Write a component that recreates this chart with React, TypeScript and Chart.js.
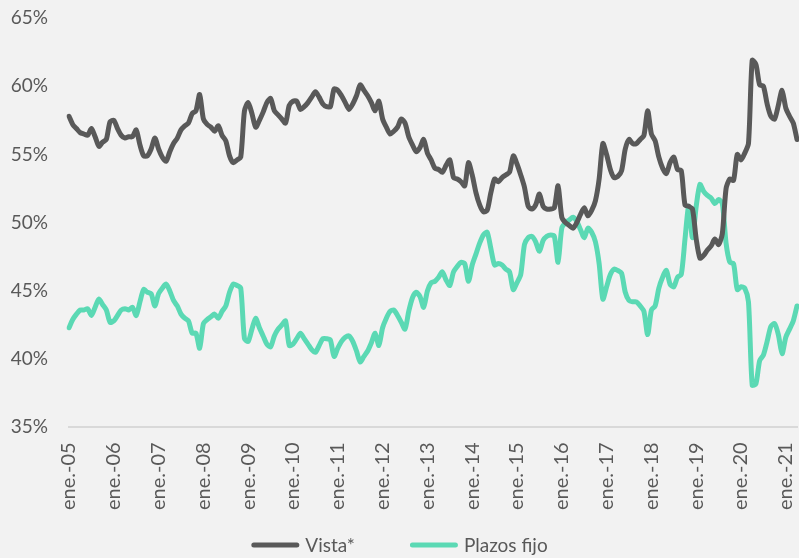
import React, { useEffect, useRef } from "react";
import { Chart, registerables } from "chart.js";

Chart.register(...registerables);

const years = ["05","06","07","08","09","10","11","12","13","14","15","16","17","18","19","20","21"];
const monthNames = ["ene.","feb.","mar.","abr.","may.","jun.","jul.","ago.","sep.","oct.","nov.","dic."];
const yTicks = [35, 40, 45, 50, 55, 60, 65];

// Vista* (% of deposits), monthly Jan-2005 .. Apr-2021
const vista2005_2008 = [
  57.8, 57.2, 56.9, 56.6, 56.5, 56.4, 56.9, 56.3, 55.6, 55.9, 56.1, 57.4,
  57.5, 56.9, 56.4, 56.2, 56.3, 56.3, 56.8, 55.7, 54.9, 54.9, 55.4, 56.2,
  55.4, 54.8, 54.5, 55.2, 55.8, 56.2, 56.8, 57.1, 57.3, 58.0, 58.2, 59.4,
  57.6, 57.2, 57.0, 56.7, 57.1, 56.4, 56.0, 54.9, 54.4, 54.6, 54.8, 58.2,
];
const vista2009_2012 = [
  58.8, 58.0, 57.0, 57.5, 58.1, 58.8, 59.1, 58.2, 57.9, 57.6, 57.3, 58.6,
  58.9, 58.9, 58.3, 58.5, 58.8, 59.2, 59.6, 59.2, 58.7, 58.5, 58.5, 59.8,
  59.7, 59.3, 58.8, 58.3, 58.7, 59.3, 60.1, 59.7, 59.3, 58.8, 58.2, 58.9,
  57.6, 57.0, 56.5, 56.7, 57.0, 57.6, 57.3, 56.3, 55.7, 55.2, 55.5, 56.1,
];
const vista2013_2016 = [
  55.1, 54.6, 54.0, 53.9, 53.7, 54.2, 54.6, 53.3, 53.2, 53.0, 52.7, 54.4,
  53.5, 52.2, 51.3, 50.8, 50.9, 52.2, 53.2, 53.0, 53.3, 53.5, 53.7, 54.9,
  54.3, 53.5, 52.6, 51.2, 51.0, 51.3, 52.1, 51.2, 51.0, 51.0, 51.1, 52.7,
  50.4, 50.0, 49.8, 49.6, 50.0, 50.6, 51.1, 50.5, 50.9, 51.6, 53.2, 55.8,
];
const vista2017_2021 = [
  55.0, 53.9, 53.3, 53.4, 53.8, 55.4, 56.1, 55.8, 55.8, 56.1, 56.4, 58.2,
  56.5, 56.0, 54.8, 54.0, 53.6, 54.4, 54.8, 53.9, 53.8, 51.3, 51.2, 51.0,
  48.8, 47.4, 47.6, 48.0, 48.3, 48.8, 48.4, 49.2, 52.5, 53.2, 53.1, 55.0,
  54.6, 55.1, 55.8, 61.9, 61.6, 60.1, 60.0, 58.7, 57.8, 57.6, 58.6, 59.7,
  58.4, 57.8, 57.3, 56.1,
];

// Plazos fijo (% of deposits)
const plazos2005_2008 = [
  42.3, 42.9, 43.3, 43.6, 43.6, 43.7, 43.2, 43.8, 44.4, 44.0, 43.6, 42.7,
  42.8, 43.2, 43.6, 43.7, 43.6, 43.8, 43.2, 44.2, 45.1, 44.9, 44.8, 43.9,
  44.8, 45.2, 45.5, 45.0, 44.3, 43.9, 43.3, 43.0, 42.8, 41.9, 41.9, 40.8,
  42.6, 42.9, 43.1, 43.3, 43.0, 43.5, 43.9, 44.9, 45.5, 45.4, 45.2, 41.5,
];
const plazos2009_2012 = [
  41.3, 42.2, 43.0, 42.3, 41.7, 41.1, 40.9, 41.7, 42.2, 42.5, 42.8, 41.0,
  41.1, 41.5, 41.9, 41.5, 41.1, 40.7, 40.5, 41.0, 41.5, 41.5, 41.4, 40.2,
  40.8, 41.3, 41.6, 41.7, 41.3, 40.6, 39.8, 40.2, 40.6, 41.2, 41.9, 41.0,
  42.3, 43.0, 43.5, 43.6, 43.2, 42.7, 42.2, 43.5, 44.5, 44.9, 44.6, 43.8,
];
const plazos2013_2016 = [
  45.0, 45.6, 45.7, 46.0, 46.4, 45.8, 45.4, 46.4, 46.8, 47.1, 47.0, 45.7,
  46.9, 47.7, 48.5, 49.1, 49.3, 48.1, 46.9, 47.0, 46.9, 46.6, 46.4, 45.1,
  45.6, 46.2, 48.4, 48.9, 49.0, 48.6, 47.9, 48.7, 49.0, 49.1, 49.0, 47.1,
  49.6, 50.0, 50.2, 50.4, 50.1, 49.5, 48.9, 49.6, 49.3, 48.6, 47.0, 44.4,
];
const plazos2017_2021 = [
  45.3, 46.2, 46.6, 46.5, 46.3, 44.9, 44.3, 44.2, 44.2, 43.9, 43.5, 41.8,
  43.6, 43.9, 45.2, 46.0, 46.5, 45.5, 45.3, 46.0, 46.2, 48.8, 51.2, 48.9,
  51.2, 52.8, 52.3, 52.0, 51.8, 51.4, 51.7, 51.4, 48.5, 47.1, 47.0, 45.1,
  45.3, 45.2, 44.2, 38.1, 38.2, 39.9, 40.3, 41.3, 42.4, 42.6, 41.8, 40.4,
  41.6, 42.2, 42.8, 43.9,
];

const vista = [...vista2005_2008, ...vista2009_2012, ...vista2013_2016, ...vista2017_2021];
const plazos = [...plazos2005_2008, ...plazos2009_2012, ...plazos2013_2016, ...plazos2017_2021];

const categories: string[] = [];
years.forEach((y) => monthNames.forEach((m) => categories.push(`${m}-${y}`)));
const labels = categories.slice(0, vista.length);

const GREY = "#595959";
const TEAL = "#5bd9b4";
const FONT = "Lato, 'Open Sans', sans-serif";

const lineLegend = {
  id: "lineLegend",
  afterDraw(chart: any) {
    const ctx = chart.ctx;
    ctx.save();
    ctx.font = `19px ${FONT}`;
    const items = chart.data.datasets.map((d: any) => ({
      text: d.label,
      color: d.borderColor,
      w: ctx.measureText(d.label).width,
    }));
    const box = 48;
    const gapText = 6;
    const gapItem = 55;
    const total =
      items.reduce((s: number, it: any) => s + box + gapText + it.w, 0) + gapItem * (items.length - 1);
    let x = (chart.width - total) / 2;
    const y = chart.height - 13;
    items.forEach((it: any) => {
      ctx.strokeStyle = it.color;
      ctx.lineWidth = 5;
      ctx.lineCap = "round";
      ctx.beginPath();
      ctx.moveTo(x + 2.5, y);
      ctx.lineTo(x + box - 2.5, y);
      ctx.stroke();
      ctx.fillStyle = GREY;
      ctx.textBaseline = "middle";
      ctx.textAlign = "left";
      ctx.fillText(it.text, x + box + gapText, y + 1);
      x += box + gapText + it.w + gapItem;
    });
    ctx.restore();
  },
};

export default function App() {
  const ref = useRef<HTMLCanvasElement>(null);
  useEffect(() => {
    document.body.style.margin = "0";
    document.body.style.background = "#f2f2f2";
    const chart = new Chart(ref.current!, {
      type: "line",
      data: {
        labels,
        datasets: [
          {
            label: "Vista*",
            data: vista,
            borderColor: GREY,
            backgroundColor: GREY,
            borderWidth: 5,
            pointRadius: 0,
            tension: 0.25,
            borderJoinStyle: "round",
            borderCapStyle: "round",
          },
          {
            label: "Plazos fijo",
            data: plazos,
            borderColor: TEAL,
            backgroundColor: TEAL,
            borderWidth: 5,
            pointRadius: 0,
            tension: 0.25,
            borderJoinStyle: "round",
            borderCapStyle: "round",
          },
        ],
      },
      plugins: [lineLegend],
      options: {
        animation: false,
        responsive: true,
        maintainAspectRatio: false,
        layout: { padding: { left: 10, right: 2, top: 18, bottom: 33 } },
        plugins: {
          tooltip: { enabled: false },
          legend: { display: false },
        },
        scales: {
          x: {
            offset: false,
            grid: { display: false, drawTicks: false },
            border: { display: true, color: "#d9d9d9", width: 2 },
            afterFit: (s: any) => {
              s.paddingLeft = 0;
              s.paddingRight = 0;
            },
            ticks: {
              autoSkip: false,
              maxRotation: 90,
              minRotation: 90,
              padding: 15,
              color: GREY,
              font: { family: FONT, size: 20 },
              callback: (_v: any, i: number) => (i % 12 === 0 ? labels[i] : ""),
            },
          },
          y: {
            min: 35,
            max: 65,
            grid: { display: false, drawTicks: false },
            border: { display: false },
            afterFit: (s: any) => {
              s.width = 59;
              s.paddingTop = 0;
              s.paddingBottom = 0;
            },
            afterBuildTicks: (axis: any) => {
              axis.ticks = yTicks.map((v) => ({ value: v }));
            },
            ticks: {
              padding: 21,
              color: GREY,
              font: { family: FONT, size: 19 },
              callback: (v: any) => `${v}%`,
            },
          },
        },
      },
    });
    return () => chart.destroy();
  }, []);
  return (
    <div style={{ position: "relative", width: 799, height: 558, background: "#f2f2f2" }}>
      <canvas ref={ref} />
    </div>
  );
}
